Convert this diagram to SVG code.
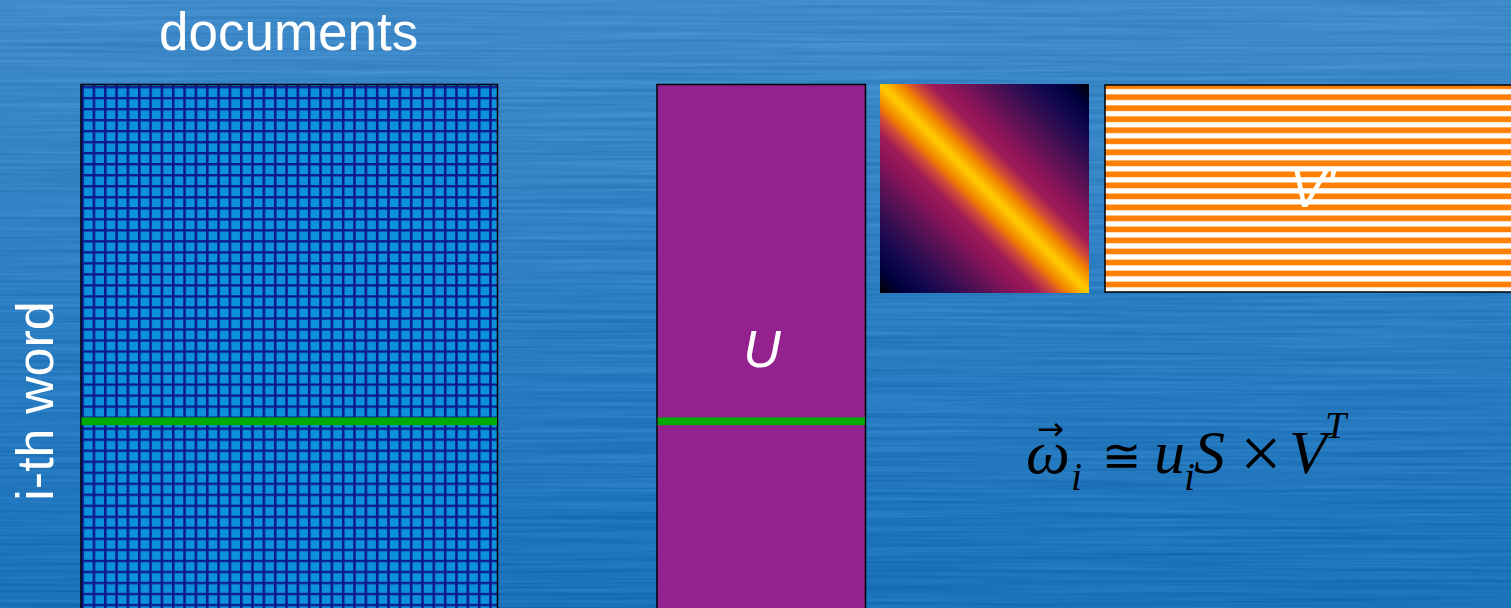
<svg xmlns="http://www.w3.org/2000/svg" width="1511" height="608" viewBox="0 0 1511 608">
  <defs>
    <style>
      .lbl { font-family: "Liberation Sans", Arial, sans-serif; fill: #ffffff; font-size: 52px; }
      .it { font-style: italic; }
      .m { font-family: "Liberation Serif", "Times New Roman", "DejaVu Serif", serif; fill: #000000; }
      .mi { font-family: "Liberation Serif", "Times New Roman", "DejaVu Serif", serif; font-style: italic; fill: #000000; }
      .frame { stroke: #000000; stroke-width: 1.5; }
      .sel { fill: #00aa00; }
    </style>
    <linearGradient id="bgGrad" x1="0" y1="0" x2="0" y2="1">
      <stop offset="0" stop-color="#3f8ac9"/>
      <stop offset="0.5" stop-color="#2c7ec2"/>
      <stop offset="1" stop-color="#1a72b9"/>
    </linearGradient>
    <filter id="brush" x="0" y="0" width="100%" height="100%" color-interpolation-filters="sRGB">
      <feTurbulence type="fractalNoise" baseFrequency="0.004 0.3" numOctaves="3" seed="7" result="n"/>
      <feColorMatrix in="n" type="matrix" values="1 0 0 0 0  1 0 0 0 0  1 0 0 0 0  0 0 0 0 1" result="g"/>
      <feComposite in="SourceGraphic" in2="g" operator="arithmetic" k1="0" k2="1" k3="0.13" k4="-0.065"/>
    </filter>
    <pattern id="grid" patternUnits="userSpaceOnUse" x="81.3" y="85.9" width="11.33" height="11.02">
      <rect width="11.33" height="11.02" fill="#0c1a8e"/>
      <rect x="2.6" y="2.35" width="8.73" height="8.67" fill="#0b92da"/>
    </pattern>
    <pattern id="stripes" patternUnits="userSpaceOnUse" x="0" y="83.3" width="20" height="11.02">
      <rect width="20" height="11.02" fill="#ffffff"/>
      <rect y="0" width="20" height="5.7" fill="#ff8000"/>
    </pattern>
    <linearGradient id="sGrad" x1="1" y1="0" x2="0" y2="1">
      <stop offset="0" stop-color="#000000"/>
      <stop offset="0.06" stop-color="#00003e"/>
      <stop offset="0.12" stop-color="#10084e"/>
      <stop offset="0.2" stop-color="#3a0e52"/>
      <stop offset="0.28" stop-color="#6a1256"/>
      <stop offset="0.34" stop-color="#8f1658"/>
      <stop offset="0.38" stop-color="#a01a58"/>
      <stop offset="0.42" stop-color="#d04a38"/>
      <stop offset="0.45" stop-color="#f08000"/>
      <stop offset="0.48" stop-color="#fbb000"/>
      <stop offset="0.5" stop-color="#ffcc00"/>
      <stop offset="0.52" stop-color="#fbb000"/>
      <stop offset="0.55" stop-color="#f08000"/>
      <stop offset="0.58" stop-color="#d04a38"/>
      <stop offset="0.62" stop-color="#a01a58"/>
      <stop offset="0.66" stop-color="#8f1658"/>
      <stop offset="0.72" stop-color="#6a1256"/>
      <stop offset="0.8" stop-color="#3a0e52"/>
      <stop offset="0.88" stop-color="#10084e"/>
      <stop offset="0.94" stop-color="#00003e"/>
      <stop offset="1" stop-color="#000000"/>
    </linearGradient>
  </defs>

  <g id="background">
    <rect x="0" y="0" width="1511" height="608" fill="url(#bgGrad)" filter="url(#brush)"/>
  </g>

  <g id="labels">
    <text class="lbl" x="159" y="50" style="font-size:53px">documents</text>
    <text class="lbl" transform="translate(53,401) rotate(-90)" text-anchor="middle">i-th word</text>
  </g>

  <g id="node-docs">
    <rect class="frame" x="81" y="84.5" width="416.5" height="540" fill="url(#grid)"/>
    <rect class="sel" x="81.5" y="417.4" width="415.5" height="7.8"/>
  </g>

  <g id="node-U">
    <rect class="frame" x="657" y="84.5" width="208.5" height="540" fill="#93218e"/>
    <rect class="sel" x="657.7" y="417.4" width="207.2" height="7.8"/>
    <text class="lbl it" x="762" y="367" text-anchor="middle">U</text>
  </g>

  <g id="node-S">
    <rect x="880" y="84" width="209" height="209" fill="url(#sGrad)"/>
  </g>

  <g id="node-V">
    <rect class="frame" x="1105" y="85" width="420" height="207" fill="url(#stripes)"/>
    <text class="lbl it" x="1290" y="207">V'</text>
  </g>

  <g id="connectors"></g>

  <g id="formula">
    <text class="mi" x="1026" y="473" font-size="62">ω</text>
    <text x="1037" y="440" font-family="DejaVu Sans, sans-serif" font-size="32" fill="#000000" textLength="27" lengthAdjust="spacingAndGlyphs">→</text>
    <text class="mi" x="1071" y="490" font-size="40">i</text>
    <text class="m" x="1102" y="472" font-size="47">≅</text>
    <text class="mi" x="1154" y="473" font-size="62">u</text>
    <text class="mi" x="1184" y="490" font-size="40">i</text>
    <text class="mi" x="1194" y="473" font-size="62">S</text>
    <text class="m" x="1240" y="478" font-size="74">×</text>
    <text class="mi" x="1289" y="473" font-size="62">V</text>
    <text class="mi" x="1325" y="438" font-size="38">T</text>
  </g>
</svg>
